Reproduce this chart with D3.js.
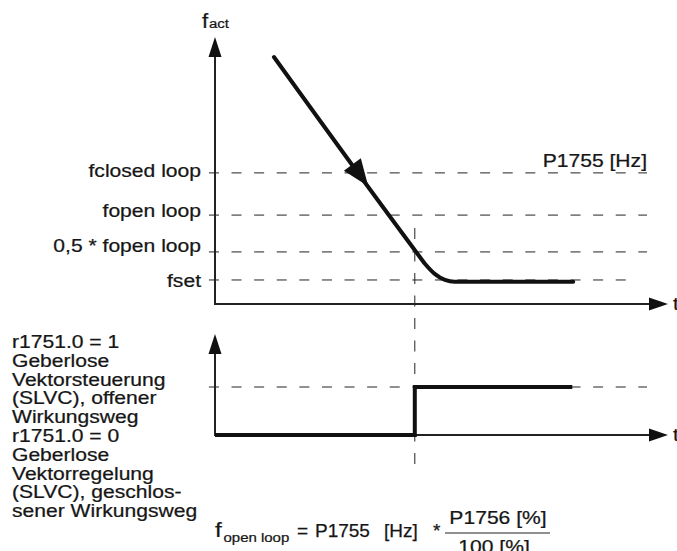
<!DOCTYPE html>
<html>
<head>
<meta charset="utf-8">
<script src="https://cdn.jsdelivr.net/npm/d3@7"></script>
<style>
  html, body { margin: 0; padding: 0; background: #fff; }
  svg { display: block; }
  text { font-family: "Liberation Sans", Arial, Helvetica, sans-serif; fill: #161616; stroke: #161616; stroke-width: 0.25; }
</style>
</head>
<body>
<svg id="chart" width="677" height="551"></svg>
<script>
// ---------- data ----------
// time axis in arbitrary units (0..100), frequency axis in arbitrary units (0..100)
const levelNames  = ["fclosed loop", "fopen loop", "0,5 * fopen loop", "fset"];
const levelValues = [49.1, 33.3, 19.5, 9.0];
const levelLabelOffsets = [4, 2, 0, 7];
const levelEnds   = [96, 96, 96, 91.8];

// actual frequency curve
const curveT = [13.1, 44.7, 46.7, 48.9, 51.1, 53.3, 79.6];
const curveF = [92.5, 19.5, 15.0, 11.2, 9.0, 8.3, 8.3];

// switch-over time (r1751.0 toggles)
const switchT = 44.4;
// status signal r1751.0
const stateT = [0, 44.4, 44.4, 79.4];
const stateV = [0, 0, 1, 1];

const stateLabel = [
  "r1751.0 = 1",
  "Geberlose",
  "Vektorsteuerung",
  "(SLVC), offener",
  "Wirkungsweg",
  "r1751.0 = 0",
  "Geberlose",
  "Vektorregelung",
  "(SLVC), geschlos-",
  "sener Wirkungsweg"
];

// ---------- scales ----------
const x = d3.scaleLinear().domain([0, 100]).range([215, 665]);
const yTop = d3.scaleLinear().domain([0, 100]).range([304, 37]);
const yBot = d3.scaleLinear().domain([0, 1]).range([435, 387]);

const svg = d3.select("#chart");
const AX = "#222";
const SX = 1.11;   // horizontal stretch of the lettering

function label(px, py, str, size, anchor, sx) {
  return svg.append("text")
    .attr("transform", `translate(${px},${py}) scale(${sx || SX},1)`)
    .attr("text-anchor", anchor || "start")
    .attr("font-size", size)
    .text(str);
}

// ---------- dashed reference lines (top) ----------
levelValues.forEach((v, i) => {
  svg.append("line")
    .attr("x1", x(-1.35)).attr("x2", x(levelEnds[i]))
    .attr("y1", yTop(v)).attr("y2", yTop(v))
    .attr("stroke", AX).attr("stroke-width", 1)
    .attr("stroke-dasharray", "10 12.6");
  label(201, yTop(v) + levelLabelOffsets[i], levelNames[i], 19, "end");
});

label(647, 167, "P1755 [Hz]", 19, "end");

// vertical dashed switch line
svg.append("line")
  .attr("x1", x(switchT)).attr("x2", x(switchT))
  .attr("y1", 228).attr("y2", 467)
  .attr("stroke", AX).attr("stroke-width", 1)
  .attr("stroke-dasharray", "11 11.5");

// dashed line bottom (state 1)
svg.append("line")
  .attr("x1", x(-1.35)).attr("x2", x(96))
  .attr("y1", yBot(1)).attr("y2", yBot(1))
  .attr("stroke", AX).attr("stroke-width", 1)
  .attr("stroke-dasharray", "10 12.6");

// ---------- axes ----------
function arrowUp(cx, tipY) {
  svg.append("path")
    .attr("d", `M${cx},${tipY} L${cx - 6.5},${tipY + 20} L${cx + 6.5},${tipY + 20} Z`)
    .attr("fill", "#111");
}
function arrowRight(tipX, cy) {
  svg.append("path")
    .attr("d", `M${tipX},${cy} L${tipX - 19},${cy - 6.5} L${tipX - 19},${cy + 6.5} Z`)
    .attr("fill", "#111");
}
// top chart
svg.append("line").attr("x1", x(0)).attr("x2", x(0)).attr("y1", yTop(-0.3)).attr("y2", 50)
  .attr("stroke", AX).attr("stroke-width", 2);
svg.append("line").attr("x1", x(0) - 1).attr("x2", 655).attr("y1", yTop(0)).attr("y2", yTop(0))
  .attr("stroke", AX).attr("stroke-width", 2);
arrowUp(x(0), 37);
arrowRight(668, yTop(0));

// bottom chart
svg.append("line").attr("x1", x(0)).attr("x2", x(0)).attr("y1", yBot(0)).attr("y2", 345)
  .attr("stroke", AX).attr("stroke-width", 2);
svg.append("line").attr("x1", x(0) - 1).attr("x2", 655).attr("y1", yBot(0)).attr("y2", yBot(0))
  .attr("stroke", AX).attr("stroke-width", 2);
arrowUp(x(0), 334);
arrowRight(668, yBot(0));

// axis labels
label(202, 28, "f", 20);
label(209, 28, "act", 13.5);
label(673, 310, "t", 19);
label(673, 441, "t", 19);

// ---------- actual frequency curve ----------
const pts = curveT.map((t, i) => [x(t), yTop(curveF[i])]);
svg.append("path")
  .attr("d", d3.line().curve(d3.curveMonotoneX)(pts))
  .attr("fill", "none").attr("stroke", "#111").attr("stroke-width", 4)
  .attr("stroke-linecap", "round").attr("stroke-linejoin", "round");

// direction arrow on the curve
{
  const p0 = pts[0], p1 = pts[1];
  const dx = p1[0] - p0[0], dy = p1[1] - p0[1];
  const L = Math.hypot(dx, dy);
  const ux = dx / L, uy = dy / L;
  const tipDist = 160;
  const tip = [p0[0] + ux * tipDist, p0[1] + uy * tipDist];
  const len = 27, half = 10.5;
  const bx = tip[0] - ux * len, by = tip[1] - uy * len;
  svg.append("path")
    .attr("d", `M${tip[0]},${tip[1]} L${bx - uy * half},${by + ux * half} L${bx + uy * half},${by - ux * half} Z`)
    .attr("fill", "#111");
}

// ---------- state signal ----------
const sp = stateT.map((t, i) => [x(t), yBot(stateV[i])]);
svg.append("path")
  .attr("d", d3.line()(sp))
  .attr("fill", "none").attr("stroke", "#111").attr("stroke-width", 4)
  .attr("stroke-linecap", "butt").attr("stroke-linejoin", "miter");

// state labels
stateLabel.forEach((s, i) => {
  label(12, 348 + i * 18.8, s, 19);
});

// ---------- formula ----------
label(215, 537, "f", 21, "start", 1.15);
label(223.5, 542, "open loop", 13.5);
label(297, 537, "=", 19, "start", 1);
label(315, 537, "P1755", 19, "start", 1);
label(384, 537, "[Hz]", 19, "start", 1);
label(433, 537, "*", 19, "start", 1);
label(498, 524, "P1756 [%]", 19, "middle");
svg.append("line").attr("x1", 445).attr("x2", 550).attr("y1", 533).attr("y2", 533)
  .attr("stroke", AX).attr("stroke-width", 1.2);
label(494, 553, "100 [%]", 19, "middle");
</script>
</body>
</html>
